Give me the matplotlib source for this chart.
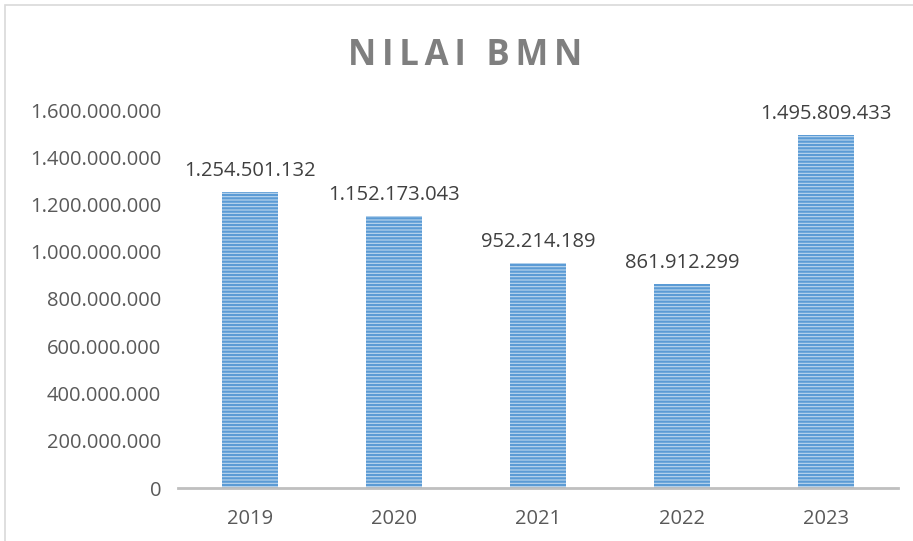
import matplotlib.pyplot as plt
from matplotlib.patches import Rectangle

years = ['2019', '2020', '2021', '2022', '2023']
values = [1254501132, 1152173043, 952214189, 861912299, 1495809433]
yticks = [0, 200000000, 400000000, 600000000, 800000000,
          1000000000, 1200000000, 1400000000, 1600000000]
title = 'NILAI BMN'


def fmt(v):
    return '{:,}'.format(int(v)).replace(',', '.')


plt.rcParams['font.family'] = ['Open Sans', 'DejaVu Sans']
plt.rcParams['hatch.linewidth'] = 1.6

fig = plt.figure(figsize=(9.13, 5.41), dpi=100)
ax = fig.add_axes([178 / 913, 53 / 541, 720 / 913, 378 / 541])

# outer chart border
fig.patches.append(Rectangle((5 / 913, -0.01), 1.0, 1 - 5 / 541 + 0.01,
                             transform=fig.transFigure, fill=False,
                             edgecolor='#d9d9d9', linewidth=1.2))

x = range(len(years))
bars = ax.bar(x, values, width=0.39, color='#bdd7ee', edgecolor='#5b9bd5',
              hatch='-----', linewidth=0)
for b, v in zip(bars, values):
    ax.annotate(fmt(v), (b.get_x() + b.get_width() / 2, v),
                xytext=(0, 8), textcoords='offset points',
                ha='center', va='bottom', fontsize=14.5, color='#404040')

ax.set_xlim(-0.5, len(years) - 0.5)
ax.set_ylim(0, 1600000000)
ax.set_xticks(list(x))
ax.set_xticklabels(years)
ax.set_yticks(yticks)
ax.set_yticklabels([fmt(t) for t in yticks])
ax.tick_params(length=0, labelsize=14.5, labelcolor='#595959')
ax.tick_params(axis='x', pad=15)
ax.tick_params(axis='y', pad=12)

for s in ['top', 'right', 'left']:
    ax.spines[s].set_visible(False)
ax.spines['bottom'].set_color('#bfbfbf')
ax.spines['bottom'].set_linewidth(2)

# letter-spaced title
fig.text(465 / 913, 1 - 56 / 541, '\u2006'.join(title), ha='center', va='center',
         fontsize=25, fontweight='bold', color='#7f7f7f')

fig.savefig('out.png', dpi=100)
